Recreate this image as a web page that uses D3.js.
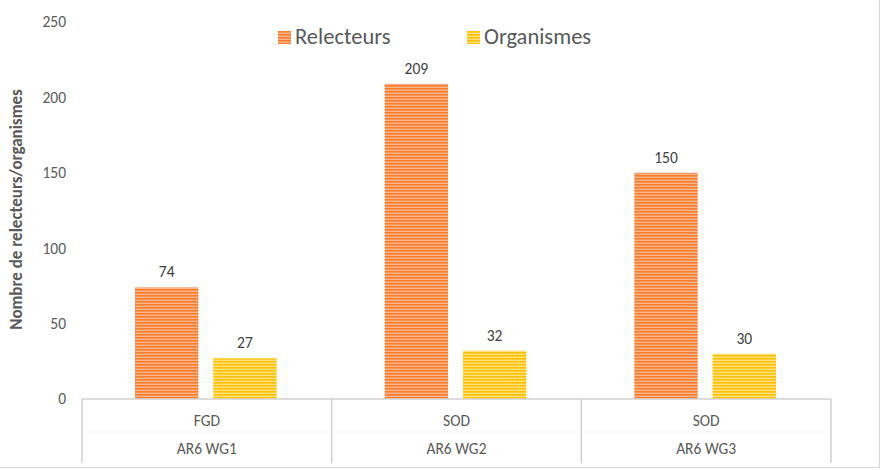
<!DOCTYPE html>
<html>
<head>
<meta charset="utf-8">
<script src="https://cdn.jsdelivr.net/npm/d3@7"></script>
<style>
  body { margin: 0; background: #fff; }
  text { font-family: Calibri, Carlito, Lato, "Open Sans", sans-serif; }
</style>
</head>
<body>
<div id="my_dataviz"></div>
<script>
// data
var groups = ["AR6 WG1", "AR6 WG2", "AR6 WG3"];
var stages = ["FGD", "SOD", "SOD"];
var series = ["Relecteurs", "Organismes"];
var relecteurs = [74, 209, 150];
var organismes = [27, 32, 30];
var yTicks = [0, 50, 100, 150, 200, 250];

var W = 881, H = 470;
var margin = { top: 22, right: 50, bottom: 71, left: 82 },
    width = W - margin.left - margin.right,
    height = H - margin.top - margin.bottom;

var svg = d3.select("#my_dataviz")
    .append("svg")
    .attr("width", W)
    .attr("height", H);

// striped fills
var defs = svg.append("defs");
function stripes(id, dark, light) {
    var p = defs.append("pattern")
        .attr("id", id)
        .attr("patternUnits", "userSpaceOnUse")
        .attr("width", 8).attr("height", 3);
    p.append("rect").attr("width", 8).attr("height", 3).attr("fill", light);
    p.append("rect").attr("width", 8).attr("height", 1.6).attr("fill", dark);
}
stripes("pOrange", "#f57c2f", "#fbb58a");
stripes("pYellow", "#ffc000", "#ffe27f");
var fills = ["url(#pOrange)", "url(#pYellow)"];

// outer border
svg.append("rect")
    .attr("x", -1).attr("y", -1)
    .attr("width", W - 0.5).attr("height", H - 1.5)
    .attr("fill", "none").attr("stroke", "#d9d9d9");

var g = svg.append("g")
    .attr("transform", "translate(" + margin.left + "," + margin.top + ")");

var x = d3.scaleBand().domain(groups).range([0, width]);
var x1 = d3.scaleBand().domain(series).range([53, x.bandwidth() - 55]).paddingInner(0.19);
var y = d3.scaleLinear().domain([0, 250]).range([height, 0]);

// y axis (labels only)
var yAxis = g.append("g")
    .call(d3.axisLeft(y).tickValues(yTicks).tickSize(0).tickPadding(16));
yAxis.select(".domain").remove();
yAxis.selectAll("text")
    .attr("fill", "#595959")
    .attr("font-size", "15.5px");

// y title
svg.append("text")
    .attr("transform", "translate(22," + (margin.top + height / 2 - 1) + ") rotate(-90)")
    .attr("text-anchor", "middle")
    .attr("fill", "#595959")
    .attr("font-size", "17px")
    .attr("font-weight", "bold")
    .text("Nombre de relecteurs/organismes");

// bars
var data = groups.map(function (d, i) {
    return [
        { group: d, key: series[0], value: relecteurs[i] },
        { group: d, key: series[1], value: organismes[i] }
    ];
});

var grp = g.selectAll(".grp")
    .data(data)
    .enter().append("g")
    .attr("transform", function (d) { return "translate(" + x(d[0].group) + ",0)"; });

grp.selectAll("rect")
    .data(function (d) { return d; })
    .enter().append("rect")
    .attr("x", function (d) { return x1(d.key); })
    .attr("y", function (d) { return y(d.value); })
    .attr("width", x1.bandwidth())
    .attr("height", function (d) { return height - y(d.value); })
    .attr("fill", function (d, i) { return fills[series.indexOf(d.key)]; });

grp.selectAll(".lbl")
    .data(function (d) { return d; })
    .enter().append("text")
    .attr("class", "lbl")
    .attr("x", function (d) { return x1(d.key) + x1.bandwidth() / 2; })
    .attr("y", function (d) { return y(d.value) - 10; })
    .attr("text-anchor", "middle")
    .attr("fill", "#404040")
    .attr("font-size", "15.5px")
    .text(function (d) { return d.value; });

// category axis box
var ax = g.append("g").attr("transform", "translate(0," + height + ")");
var boxH = 64;
ax.append("line")
    .attr("x1", 0).attr("x2", width)
    .attr("y1", 0).attr("y2", 0)
    .attr("stroke", "#d0d0d0").attr("stroke-width", 1.5);
ax.append("line")
    .attr("x1", 0).attr("x2", width)
    .attr("y1", 33).attr("y2", 33)
    .attr("stroke", "#f4f4f4").attr("stroke-width", 1);
var ticksX = groups.map(function (d) { return x(d); }).concat([width]);
ax.selectAll(".vt")
    .data(ticksX)
    .enter().append("line")
    .attr("x1", function (d) { return d; })
    .attr("x2", function (d) { return d; })
    .attr("y1", 0).attr("y2", boxH)
    .attr("stroke", "#d0d0d0").attr("stroke-width", 1.5);

ax.selectAll(".stage")
    .data(stages)
    .enter().append("text")
    .attr("x", function (d, i) { return x(groups[i]) + x.bandwidth() / 2; })
    .attr("y", 27)
    .attr("text-anchor", "middle")
    .attr("fill", "#595959")
    .attr("font-size", "15.5px")
    .text(function (d) { return d; });

ax.selectAll(".grpname")
    .data(groups)
    .enter().append("text")
    .attr("x", function (d) { return x(d) + x.bandwidth() / 2; })
    .attr("y", 55)
    .attr("text-anchor", "middle")
    .attr("fill", "#595959")
    .attr("font-size", "15.5px")
    .text(function (d) { return d; });

// legend
var legX = [278, 467];
var leg = svg.selectAll(".leg")
    .data(series)
    .enter().append("g")
    .attr("transform", function (d, i) { return "translate(" + legX[i] + ",31)"; });
leg.append("rect")
    .attr("width", 13).attr("height", 13)
    .attr("fill", function (d, i) { return fills[i]; });
leg.append("text")
    .attr("x", 17).attr("y", 13)
    .attr("fill", "#595959")
    .attr("font-size", "22.5px")
    .text(function (d) { return d; });
</script>
</body>
</html>
